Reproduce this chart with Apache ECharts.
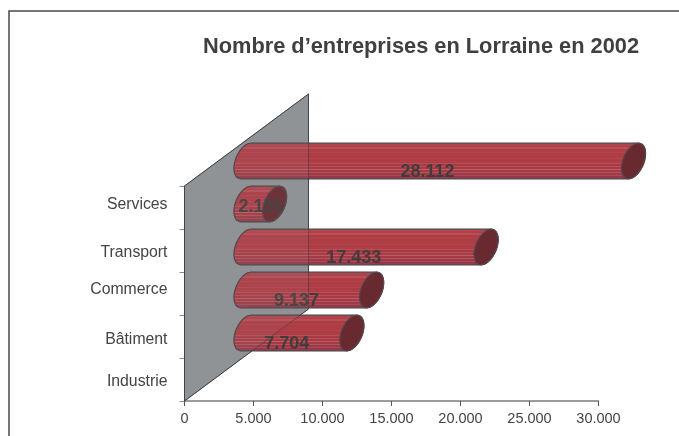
<!DOCTYPE html>
<html><head><meta charset="utf-8">
<style>html,body{margin:0;padding:0;background:#fff}#c{width:679px;height:436px}</style>
<script src="https://cdn.jsdelivr.net/npm/echarts@6/dist/echarts.min.js"></script>
</head><body><div id="c"></div>
<script>
const categories = ['Services', 'Transport', 'Commerce', 'Bâtiment', 'Industrie'];
const values = [28112, 2106, 17433, 9137, 7704];
const xTicks = [0, 5000, 10000, 15000, 20000, 25000, 30000];
const titleText = 'Nombre d’entreprises en Lorraine en 2002';

const fmt = v => String(v).replace(/\B(?=(\d{3})+$)/g, '.');
const labelPad = [[0,6], [5,0], [0,8], [6,0], [4,0]];   // top/bottom padding that nudges each category label
const stripeColors = ['#a8525a','#b4444c','#b04048','#b8505a','#ae3c44','#b03c44','#b4444c','#ae3c44','#b03e46','#ae3c44','#b4444c','#ae3c44','#b03e46','#b84e58','#aa3a42','#b4505a','#a83a44','#bc5c66','#a43a46','#b45460','#9e3a46','#aa4a56','#96384a','#8e3a44'];
const depthX = 124, depthY = 92;               // wall depth in pixels

const stripes = { type:'linear', x:0, y:0, x2:0, y2:1, colorStops: stripeColors.flatMap((c,i)=>[
  {offset:i/stripeColors.length, color:c},{offset:(i+1)/stripeColors.length, color:c}]) };

function ring(cx, cy, hh, t0, t1) {
  const w = 11, s = 5, pts = [];
  for (let i = 0; i <= 32; i++) {
    const t = t0 + (t1 - t0) * i / 32;
    pts.push([cx + w * Math.cos(t) + s * Math.sin(t), cy - hh * Math.sin(t)]);
  }
  return pts;
}

function wallPoints(api) {
  const a = api.coord([0, 0]), size = api.size([0, 1]);
  const top = a[1] - size[1] / 2, bot = top + size[1] * categories.length;
  return [[a[0], top], [a[0] + depthX, top - depthY], [a[0] + depthX, bot - depthY], [a[0], bot]];
}

function renderWall(p, api) {
  return { type:'polygon', shape:{points:wallPoints(api)},
    style:{fill:'#8f9396', stroke:'#4a4c4e', lineWidth:1} };
}
function renderWallVeil(p, api) {
  return { type:'polygon', shape:{points:wallPoints(api)}, silent:true,
    style:{fill:'rgba(143,147,150,0.1)', stroke:'rgba(60,60,60,0.55)', lineWidth:1} };
}
function renderBar(p, api) {
  const v = api.value(0), idx = api.value(1);
  const start = api.coord([0, idx]), end = api.coord([v, idx]);
  const hh = api.size([0, 1])[1] * 0.415;
  const dx = depthX / 2 - 0.5, dy = depthY / 2 + 0.5;
  const lx = start[0] + dx, rx = end[0] + dx - 0.5, cy = start[1] - dy;
  const body = ring(lx, cy, hh, Math.PI/2, Math.PI*1.5).concat(ring(rx, cy, hh, -Math.PI/2, Math.PI/2));
  const cap = ring(rx, cy, hh, 0, Math.PI*2);
  const short = v < 5000;
  const tx = (start[0] + end[0]) / 2 + (short ? 62 : 49);
  const ty = cy + (short ? 3.5 : 11);
  return { type:'group', children:[
    { type:'polygon', shape:{points:body}, style:{fill:stripes, stroke:'#4a4044', lineWidth:1.2} },
    { type:'polygon', shape:{points:cap}, style:{fill:'#682a30', stroke:'#55484c', lineWidth:1.2} },
    { type:'text', z2:5, style:{x:tx, y:ty, text:fmt(v), align:'center', verticalAlign:'middle',
      fill:'rgba(60,60,60,0.95)', font:'bold 18px "Liberation Sans"'} }
  ]};
}

const chart = echarts.init(document.getElementById('c'), null, {renderer:'canvas'});
chart.setOption({
  animation:false,
  backgroundColor:'#fff',
  textStyle:{fontFamily:'"Liberation Sans"'},
  title:{text:titleText, left:416, top:31, textAlign:'center',
    textStyle:{fontFamily:'"Liberation Sans"', fontWeight:'bold', fontSize:21.8, color:'#404040'}},
  grid:{left:184.5, width:414, top:186, height:215, containLabel:false},
  xAxis:{type:'value', min:0, max:30000, interval:5000,
    axisLine:{show:true, lineStyle:{color:'#7c7c7c', width:1.5}},
    axisTick:{show:true, length:5, lineStyle:{color:'#555', width:1}},
    axisLabel:{formatter:v=>xTicks.includes(v)?fmt(v):'', fontSize:14.5, color:'#444', margin:10, hideOverlap:false, showMaxLabel:true},
    splitLine:{show:false}},
  yAxis:{type:'category', data:categories, inverse:true,
    axisLine:{show:true, lineStyle:{color:'#4a4c4e', width:1}},
    axisTick:{show:true, length:5, alignWithLabel:false, lineStyle:{color:'#8a8a8a', width:1}},
    axisLabel:{fontSize:15.8, color:'#444', margin:17, align:'right',
      formatter:(v,i)=>'{s'+i+'|'+v+'}',
      rich:Object.fromEntries(labelPad.map((n,i)=>['s'+i,{padding:[n[0],0,n[1],0],fontSize:15.8,color:'#444',fontFamily:'"Liberation Sans"'}]))}},
  series:[
    {type:'custom', renderItem:renderWall, data:[[0]], z:1, encode:{x:0}, silent:true},
    {type:'custom', renderItem:renderBar, data:values.map((v,i)=>[v,i]), encode:{x:0,y:1}, z:2, clip:false},
    {type:'custom', renderItem:renderWallVeil, data:[[0]], z:3, encode:{x:0}, silent:true}
  ],
  graphic:[
    {type:'polyline', silent:true, shape:{points:[[679,11],[9,11],[9,436]]}, style:{stroke:'#4a4a4a', lineWidth:1.5, fill:null}}
  ]
});
</script></body></html>
